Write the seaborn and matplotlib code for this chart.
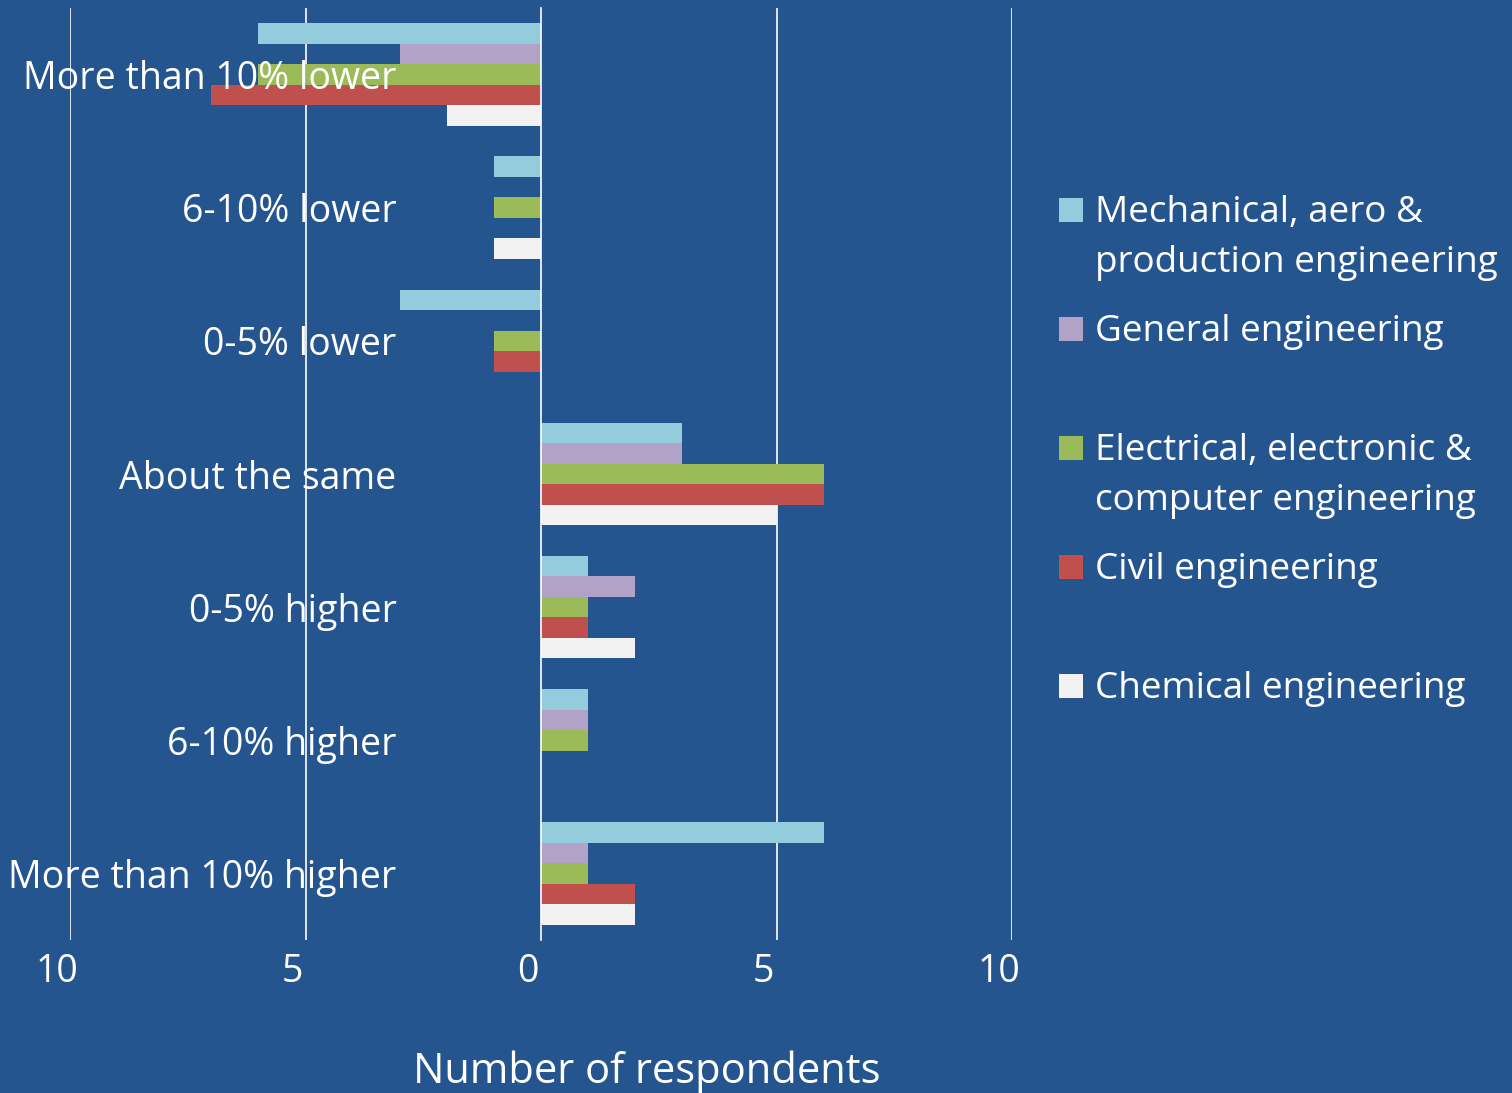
import pandas as pd
import seaborn as sns
import matplotlib.pyplot as plt
import matplotlib.transforms as mtransforms
from matplotlib.patches import Rectangle

# Survey answers (top to bottom) and counts per discipline; "lower" answers are negative
categories = ['More than 10% lower', '6-10% lower', '0-5% lower', 'About the same',
              '0-5% higher', '6-10% higher', 'More than 10% higher']
series = ['Mechanical, aero & production engineering', 'General engineering',
          'Electrical, electronic & computer engineering', 'Civil engineering',
          'Chemical engineering']
legend_labels = ['Mechanical, aero &\nproduction engineering', 'General engineering',
                 'Electrical, electronic &\ncomputer engineering', 'Civil engineering',
                 'Chemical engineering']
mechanical = [-6, -1, -3, 3, 1, 1, 6]
general = [-3, 0, 0, 3, 2, 1, 1]
electrical = [-6, -1, -1, 6, 1, 1, 1]
civil = [-7, 0, -1, 6, 1, 0, 2]
chemical = [-2, -1, 0, 5, 2, 0, 2]
colors = ['#93CDDD', '#B3A2C7', '#9BBB59', '#C0504D', '#F2F2F2']
x_ticks = [-10, -5, 0, 5, 10]
x_ticklabels = ['10', '5', '0', '5', '10']

BG = '#25558F'
FONT = ['Open Sans', 'DejaVu Sans']
FS = 27

rows = []
for name, vals in zip(series, [mechanical, general, electrical, civil, chemical]):
    for cat, v in zip(categories, vals):
        rows.append({'category': cat, 'series': name, 'value': v})
df = pd.DataFrame(rows)

sns.set_theme(style='white')
plt.rcParams['font.family'] = FONT

W, H = 1512, 1093
fig = plt.figure(figsize=(W / 100, H / 100), dpi=100, facecolor=BG)
ax = fig.add_axes([70 / W, 1 - 940 / H, 942 / W, 932 / H])
ax.set_facecolor(BG)

sns.barplot(data=df, x='value', y='category', hue='series', order=categories,
            hue_order=series, palette=colors, orient='h', width=0.77,
            saturation=1, linewidth=0, legend=False, ax=ax)

ax.set_xlim(-10, 10)
ax.set_ylim(len(categories) - 0.5, -0.5)
ax.set_axisbelow(False)  # category labels sit on top of the bars

# vertical gridlines behind the bars
for t in x_ticks:
    if t != 0:
        ax.axvline(t, color='white', lw=1.2, zorder=0.5)

for s in ['top', 'right', 'bottom']:
    ax.spines[s].set_visible(False)
ax.spines['left'].set_position(('data', 0))
ax.spines['left'].set_color('white')
ax.spines['left'].set_linewidth(1.2)

ax.set_yticks(range(len(categories)))
ax.set_yticklabels(categories)
ax.set_yticks([i - 0.5 for i in range(len(categories) + 1)], minor=True)
ax.tick_params(axis='y', which='major', length=0, pad=104, colors='white', labelsize=FS)
ax.tick_params(axis='y', which='minor', length=8, width=1.2, color='white', direction='out')
ax.set_ylabel('')

ax.set_xticks(x_ticks)
ax.set_xticklabels(x_ticklabels)
ax.tick_params(axis='x', length=0, pad=9, colors='white', labelsize=FS)
shift = mtransforms.ScaledTranslation(-13 / 100, 0, fig.dpi_scale_trans)
for lab in ax.get_xticklabels():
    lab.set_transform(lab.get_transform() + shift)

ax.set_xlabel('Number of respondents', color='white', fontsize=30, va='center')
ax.xaxis.set_label_coords((647 - 70) / 942, (940 - 1072) / 932)

# legend on the right, markers level with the first line of each entry
for i, (lab, col) in enumerate(zip(legend_labels, colors)):
    yc = 210 + 119 * i
    fig.add_artist(Rectangle((1059 / W, 1 - (yc + 12) / H), 24 / W, 24 / H,
                             transform=fig.transFigure, facecolor=col, edgecolor='none'))
    fig.text(1095 / W, 1 - (yc - 15) / H, lab, color='white', fontsize=26.6,
             va='top', ha='left', linespacing=1.52)

fig.savefig('out.png', dpi=100, facecolor=BG)
plt.close(fig)
